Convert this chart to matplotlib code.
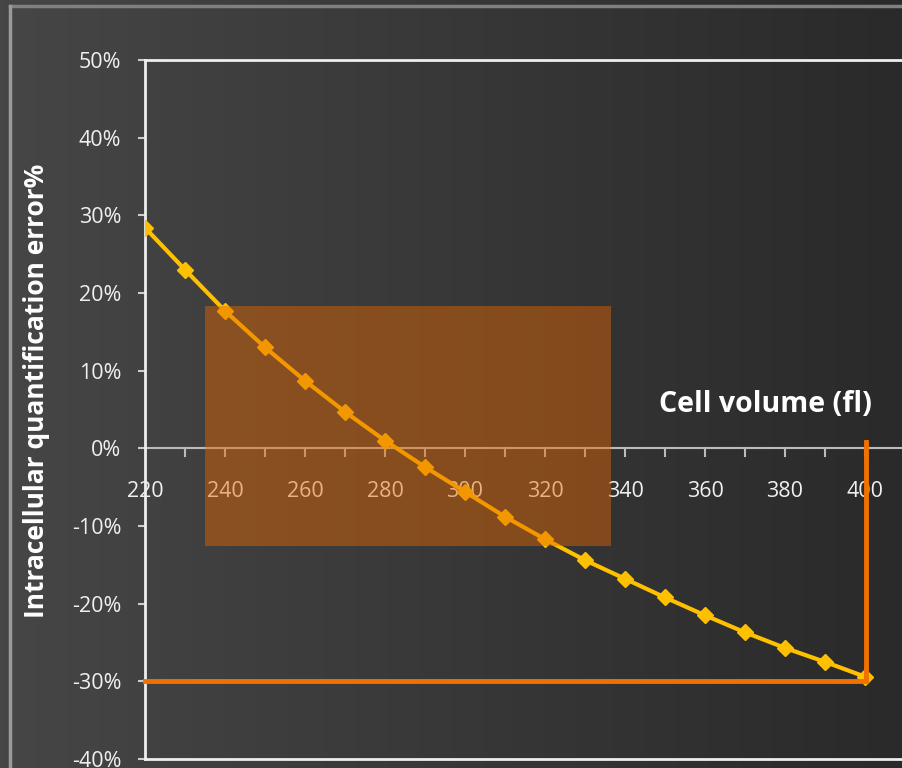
import numpy as np
import matplotlib
matplotlib.use('Agg')
import matplotlib.pyplot as plt
from matplotlib.patches import Rectangle

# cell volume (fl) vs intracellular quantification error (%)
volume = [220, 230, 240, 250, 260, 270, 280, 290, 300, 310,
          320, 330, 340, 350, 360, 370, 380, 390, 400]
error_pct = [28.4, 23.0, 17.7, 13.0, 8.7, 4.7, 1.0, -2.4, -5.6, -8.8,
             -11.7, -14.4, -16.8, -19.2, -21.5, -23.7, -25.7, -27.5, -29.4]
x_ticks = [220, 240, 260, 280, 300, 320, 340, 360, 380, 400]
y_ticks = [-40, -30, -20, -10, 0, 10, 20, 30, 40, 50]

plt.rcParams['font.family'] = ['Open Sans', 'DejaVu Sans']

fig = plt.figure(figsize=(9.02, 7.68), dpi=100)

# dark gradient background
bg = fig.add_axes([0, 0, 1, 1], zorder=-10)
grad = np.linspace(0, 1, 256).reshape(1, -1)
cmap = matplotlib.colors.LinearSegmentedColormap.from_list('bg', ['#464646', '#2a2a2a'])
bg.imshow(grad, aspect='auto', cmap=cmap, extent=[0, 1, 0, 1])
bg.set_xlim(0, 1)
bg.set_ylim(0, 1)
bg.axis('off')
# outer frame lines (top and left)
bg.plot([10 / 902, 1], [1 - 6 / 768, 1 - 6 / 768], color='#808080', lw=2.5,
        transform=bg.transAxes, clip_on=False)
bg.plot([10 / 902, 10 / 902], [0, 1 - 6 / 768], color='#9a9a9a', lw=2.5,
        transform=bg.transAxes, clip_on=False)

W, H = 902, 768
left, right, top, bottom = 145, 905, 60, 759
ax = fig.add_axes([left / W, 1 - bottom / H, (right - left) / W, (bottom - top) / H])
ax.set_facecolor('none')
ax.set_xlim(220, 410)
ax.set_ylim(-40, 50)

for s in ['top', 'bottom', 'left', 'right']:
    ax.spines[s].set_color('#eeeeee')
    ax.spines[s].set_linewidth(2)
ax.spines['right'].set_visible(False)

# x axis drawn through zero
ax.axhline(0, color='#bbbbbb', lw=1.5, zorder=1)
ax.set_xticks([])
for xv in volume:
    ax.plot([xv, xv], [0, -1.0], color='#bbbbbb', lw=1.5, zorder=1)
for xv in x_ticks:
    ax.text(xv, -5.6, str(xv), ha='center', va='center', color='#f0f0f0', fontsize=15.5)

ax.set_yticks(y_ticks)
ax.set_yticklabels(['%d%%' % v for v in y_ticks], color='#f0f0f0', fontsize=15.5)
ax.tick_params(axis='y', colors='#cccccc', length=5, width=1.5, pad=12, labelcolor='#f0f0f0')

ax.plot(volume, error_pct, color='#ffc000', lw=3, marker='D', ms=8,
        markeredgecolor='#ffc000', zorder=3)

# highlight lines at last point
ax.plot([220, 400.25], [-30.0, -30.0], color='#f07000', lw=3.5, zorder=4, clip_on=False)
ax.plot([400.25, 400.25], [-30.0, 0.8], color='#f07000', lw=3.5, zorder=4, clip_on=False)

fig.text(765 / W, 1 - 405 / H, 'Cell volume (fl)', ha='center', va='center',
         color='white', fontsize=20.5, fontweight='bold')
fig.text(37 / W, 1 - 391 / H, 'Intracellular quantification error%', ha='center', va='center',
         color='white', fontsize=19, fontweight='bold', rotation=90)

# translucent orange box over the plot
fig.patches.append(Rectangle((205 / W, 1 - 546 / H), 406 / W, 240 / H,
                             transform=fig.transFigure, facecolor=(0.9, 0.4, 0.0),
                             alpha=0.45, edgecolor='none', zorder=10))

fig.savefig('out.png', dpi=100)
